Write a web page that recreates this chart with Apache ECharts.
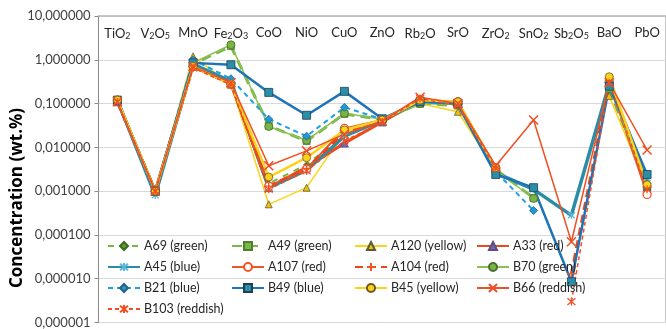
<!DOCTYPE html>
<html>
<head>
<meta charset="utf-8">
<script src="https://cdn.jsdelivr.net/npm/echarts@6/dist/echarts.min.js"></script>
<style>
  html, body { margin: 0; padding: 0; background: #fff; }
  #chart { width: 666px; height: 329px; }
</style>
</head>
<body>
<div id="chart"></div>
<script>
// oxides, label uses rich text for the subscripts
const oxides = ['TiO{s|2}', 'V{s|2}O{s|5}', 'MnO', 'Fe{s|2}O{s|3}', 'CoO', 'NiO', 'CuO', 'ZnO',
	'Rb{s|2}O', 'SrO', 'ZrO{s|2}', 'SnO{s|2}', 'Sb{s|2}O{s|5}', 'BaO', 'PbO']

// wt.% values, one array per sample (null = not measured)
const A69 = [0.115, 0.0010, 0.80, 0.30, 0.0015, 0.0040, 0.020, 0.040, 0.11, 0.10, 0.0032, null, null, 0.30, 0.0013]
const A49 = [0.115, 0.0010, 0.80, 2.05, 0.031, 0.0140, 0.058, 0.043, 0.10, 0.090, 0.0031, 0.00070, null, 0.22, 0.0012]
const A120 = [0.110, 0.0010, 1.20, 0.27, 0.0005, 0.0012, 0.022, 0.040, 0.10, 0.065, 0.0030, null, null, 0.15, 0.0012]
const A33 = [0.110, 0.0010, 0.75, 0.30, 0.0012, 0.0035, 0.0125, 0.038, 0.12, 0.10, 0.0033, null, null, 0.30, 0.0013]
const A45 = [0.120, 0.0008, 0.80, 0.32, 0.0012, 0.0030, 0.018, 0.042, 0.11, 0.10, 0.0026, 0.0011, 0.00028, 0.28, 0.0020]
const A107 = [0.120, 0.0010, 0.70, 0.28, 0.0013, 0.0032, 0.027, 0.042, 0.12, 0.11, 0.0034, null, null, 0.32, 0.00084]
const A104 = [0.110, 0.0010, 0.70, 0.28, 0.0013, 0.0033, 0.022, 0.040, 0.12, 0.10, 0.0033, null, 0.000013, 0.30, 0.0012]
const B70 = [0.115, 0.0010, 0.85, 2.20, 0.030, 0.0145, 0.060, 0.044, 0.10, 0.095, 0.0030, 0.00068, null, 0.25, 0.0013]
const B21 = [0.120, 0.0010, 1.00, 0.37, 0.044, 0.018, 0.082, 0.044, 0.11, 0.10, 0.0028, 0.00036, null, 0.30, 0.0015]
const B49 = [0.120, 0.0010, 0.85, 0.77, 0.18, 0.054, 0.19, 0.045, 0.11, 0.10, 0.0024, 0.0012, 0.0000085, 0.25, 0.0024]
const B45 = [0.120, 0.0010, 0.70, 0.28, 0.0021, 0.0058, 0.025, 0.042, 0.12, 0.11, 0.0034, null, null, 0.41, 0.0014]
const B66 = [0.110, 0.0010, 0.70, 0.30, 0.0038, 0.0083, 0.020, 0.040, 0.14, 0.10, 0.0038, 0.042, 0.00007, 0.30, 0.0087]
const B103 = [0.110, 0.0010, 0.65, 0.27, 0.0011, 0.0029, 0.014, 0.038, 0.13, 0.090, 0.0033, null, 0.000003, 0.30, 0.0011]

const X_MARK = 'path://M0,0L10,10M0,10L10,0'
const PLUS_MARK = 'path://M5,0L5,10M0,5L10,5'
const STAR_MARK = 'path://M0,0L10,10M0,10L10,0M5,-1L5,11'

const mk = (name, data, o) => ({
	name: name,
	type: 'line',
	data: data,
	connectNulls: false,
	symbol: o.symbol,
	symbolSize: o.size || 7,
	lineStyle: { color: o.color, width: o.width, type: o.dash ? (o.dash === true ? 'dashed' : o.dash) : 'solid' },
	itemStyle: {
		color: o.fill || o.color,
		borderColor: o.border || '#404040',
		borderWidth: o.bw != null ? o.bw : 0.8
	},
	emphasis: { disabled: true },
	animation: false
})

const series = [
	mk('A69 (green)', A69, { color: '#78b543', width: 2, dash: [6, 6], symbol: 'diamond', size: 6, fill: '#5f9a33', border: '#3d6b20' }),
	mk('A49 (green)', A49, { color: '#7ab648', width: 3, dash: [10, 6], symbol: 'rect', size: 7, fill: '#7ab648', border: '#4f7f2c' }),
	mk('A120 (yellow)', A120, { color: '#ffd21a', width: 1.5, symbol: 'triangle', size: 7, fill: '#f2c200', border: '#5a5a3a' }),
	mk('A33 (red)', A33, { color: '#ea4b1c', width: 3, symbol: 'triangle', size: 8, fill: '#7a68a6', border: '#5a4c85' }),
	mk('A45 (blue)', A45, { color: '#2a8da5', width: 3.5, symbol: STAR_MARK, size: 7, fill: 'none', border: '#5bb8d8', bw: 1.3 }),
	mk('A107 (red)', A107, { color: '#f05523', width: 2, symbol: 'circle', size: 8, fill: '#ffffff', border: '#f05523', bw: 1.3 }),
	mk('A104 (red)', A104, { color: '#e8471c', width: 3, dash: [8, 5], symbol: PLUS_MARK, size: 9, fill: 'none', border: '#f05523', bw: 1.3 }),
	mk('B70 (green)', B70, { color: '#8cc152', width: 1.5, symbol: 'circle', size: 8, fill: '#78b543', border: '#4f6b34' }),
	mk('B21 (blue)', B21, { color: '#1ea0e6', width: 2, dash: [5, 4], symbol: 'diamond', size: 8, fill: '#1e9bd7', border: '#2a5f80' }),
	mk('B49 (blue)', B49, { color: '#1f74b8', width: 2.5, symbol: 'rect', size: 8, fill: '#2b8ea8', border: '#1d3f55' }),
	mk('B45 (yellow)', B45, { color: '#ffd21a', width: 2.5, symbol: 'circle', size: 8, fill: '#ffd21a', border: '#6b5a20' }),
	mk('B66 (reddish)', B66, { color: '#f04e23', width: 1.5, symbol: X_MARK, size: 9, fill: 'none', border: '#f04e23', bw: 1.5 }),
	mk('B103 (reddish)', B103, { color: '#f04e23', width: 1.5, dash: [4, 3], symbol: STAR_MARK, size: 8, fill: 'none', border: '#f04e23', bw: 1.2 })
]

const legendCols = [
	{ left: 102, data: ['A69 (green)', 'A45 (blue)', 'B21 (blue)', 'B103 (reddish)'] },
	{ left: 226, data: ['A49 (green)', 'A107 (red)', 'B49 (blue)'] },
	{ left: 349, data: ['A120 (yellow)', 'A104 (red)', 'B45 (yellow)'] },
	{ left: 471, data: ['A33 (red)', 'B70 (green)', 'B66 (reddish)'] }
]

const legends = legendCols.map((c) => ({
	left: c.left,
	top: 234,
	orient: 'vertical',
	data: c.data,
	itemWidth: 32,
	itemHeight: 10,
	itemGap: 7,
	selectedMode: false,
	textStyle: { fontFamily: 'Lato', fontSize: 12.5, color: '#262626', lineHeight: 14, padding: [0, 0, 0, -1] }
}))

const fmt = (v) => {
	return v.toFixed(6).replace('.', ',')
}

const option = {
	backgroundColor: '#ffffff',
	animation: false,
	legend: legends,
	// axis title drawn as text so it can sit a bit below the middle, as in the picture
	graphic: [{
		type: 'text',
		x: 17,
		y: 198,
		rotation: Math.PI / 2,
		style: {
			text: 'Concentration (wt.%)',
			fontFamily: 'Open Sans',
			fontSize: 17,
			fontWeight: 'bold',
			fill: '#000',
			align: 'center',
			verticalAlign: 'middle'
		}
	}],
	grid: { left: 98.5, top: 16, width: 573, bottom: 4, show: true, borderColor: '#8c8c8c', borderWidth: 1 },
	xAxis: {
		type: 'category',
		position: 'top',
		data: oxides,
		boundaryGap: true,
		axisLine: { lineStyle: { color: '#bfbfbf' } },
		axisTick: { inside: true, length: 4, lineStyle: { color: '#bfbfbf' } },
		axisLabel: {
			inside: true,
			margin: 10,
			interval: 0,
			fontFamily: 'Lato',
			fontSize: 13,
			color: '#262626',
			rich: {
				s: { fontFamily: 'Lato', fontSize: 9, color: '#262626', verticalAlign: 'bottom', padding: [6, 0, 0, 0] }
			}
		},
		splitLine: { show: false }
	},
	yAxis: {
		type: 'log',
		logBase: 10,
		min: 0.000001,
		max: 10,
		axisLine: { show: true, lineStyle: { color: '#8c8c8c' } },
		axisTick: { show: true, length: 4, lineStyle: { color: '#8c8c8c' } },
		axisLabel: { formatter: fmt, fontFamily: 'Lato', fontSize: 13, color: '#404040', margin: 8 },
		splitLine: { lineStyle: { color: '#d9d9d9' } },
		minorTick: { show: false }
	},
	series: series
}

const myChart = echarts.init(document.getElementById('chart'), null, { renderer: 'canvas' })
myChart.setOption(option)
</script>
</body>
</html>
